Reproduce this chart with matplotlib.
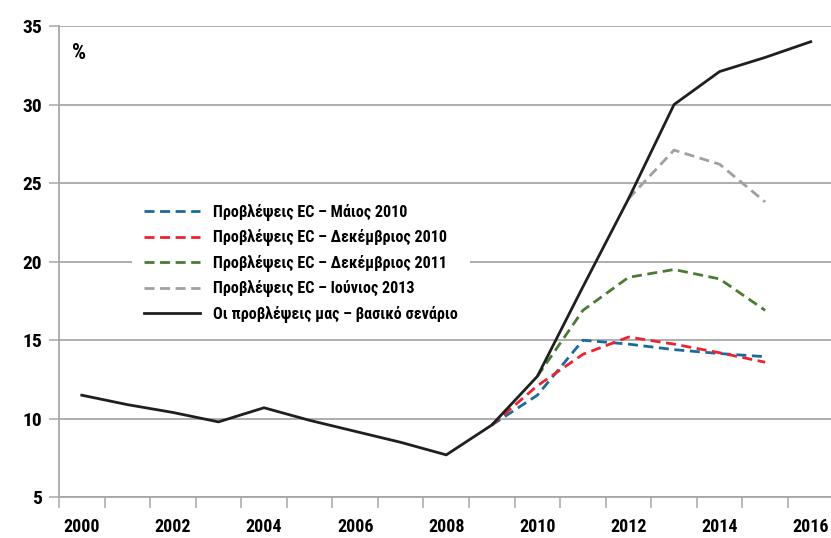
import numpy as np
import matplotlib
matplotlib.use('Agg')
import matplotlib.pyplot as plt
from matplotlib.ticker import FixedLocator

plt.rcParams['font.family'] = ['Roboto Condensed', 'DejaVu Sans']
plt.rcParams['font.weight'] = 'bold'

# data
years = list(range(2000, 2017))

base_years = years
base_vals = [11.5, 10.9, 10.4, 9.8, 10.7, 9.9, 9.2, 8.5, 7.7, 9.6,
             12.7, 18.4, 24.0, 30.0, 32.1, 33.0, 34.0]

may10_years = [2009, 2010, 2011, 2012, 2013, 2014, 2015]
may10_vals = [9.6, 11.5, 15.0, 14.75, 14.4, 14.15, 13.95]

dec10_years = [2009, 2010, 2011, 2012, 2013, 2014, 2015]
dec10_vals = [9.6, 12.1, 14.1, 15.2, 14.75, 14.2, 13.6]

dec11_years = [2010, 2011, 2012, 2013, 2014, 2015]
dec11_vals = [12.7, 16.9, 19.0, 19.5, 18.9, 16.9]

jun13_years = [2012, 2013, 2014, 2015]
jun13_vals = [24.0, 27.1, 26.2, 23.8]

labels = ['Προβλέψεις EC – Μάιος 2010',
          'Προβλέψεις EC – Δεκέμβριος 2010',
          'Προβλέψεις EC – Δεκέμβριος 2011',
          'Προβλέψεις EC – Ιούνιος 2013',
          'Οι προβλέψεις μας – βασικό σενάριο']

GRID = '#a8a8a8'

fig = plt.figure(figsize=(8.31, 5.38), dpi=100)
ax = fig.add_axes([59 / 831, 1 - 497.3 / 538, 1.003 - 59 / 831, (497.3 - 26) / 538])

def xpos(ys):
    return [y - 2000 for y in ys]

dash = (3.6, 2.0)
ax.plot(xpos(may10_years), may10_vals, color='#1d6a9a', lw=2.0, dashes=dash, label=labels[0], zorder=3)
ax.plot(xpos(dec10_years), dec10_vals, color='#ea2430', lw=2.0, dashes=dash, label=labels[1], zorder=3)
ax.plot(xpos(dec11_years), dec11_vals, color='#4c7a35', lw=2.0, dashes=dash, label=labels[2], zorder=3)
ax.plot(xpos(jun13_years), jun13_vals, color='#a0a0a0', lw=2.0, dashes=dash, label=labels[3], zorder=3)
ax.plot(xpos(base_years), base_vals, color='#1f1f1f', lw=2.0, label=labels[4], zorder=4)

ax.set_xlim(-0.5, 16.5)
ax.set_ylim(5, 35)
ax.set_yticks(range(5, 36, 5))
ax.yaxis.grid(True, color=GRID, lw=1.3)
ax.set_axisbelow(True)

# category boundaries get the ticks, labels sit in the middle every 2 years
ax.xaxis.set_major_locator(FixedLocator(np.arange(-0.5, 16.6, 1)))
ax.set_xticklabels([])
ax.xaxis.set_minor_locator(FixedLocator(range(0, 17, 2)))
ax.set_xticklabels([str(y) for y in years[::2]], minor=True)
ax.tick_params(axis='x', which='major', length=8, width=1.1, color=GRID)
ax.tick_params(axis='x', which='minor', length=0, pad=15, labelsize=13)
ax.tick_params(axis='y', length=7, width=1.1, color=GRID, pad=5, labelsize=14)

for s in ['top', 'right']:
    ax.spines[s].set_visible(False)
for s in ['left', 'bottom']:
    ax.spines[s].set_color(GRID)
    ax.spines[s].set_linewidth(1.3)
ax.spines['left'].set_bounds(5, 35)

fig.text(72 / 831, 1 - 53 / 538, '%', fontsize=16, va='center', ha='left')

leg = ax.legend(loc='upper left', bbox_to_anchor=(132 / 831, 1 - 192 / 538),
                bbox_transform=fig.transFigure, fontsize=11.6, frameon=True,
                facecolor='white', edgecolor='none', framealpha=1,
                handlelength=3.5, handletextpad=0.8, labelspacing=0.52,
                borderpad=0.75, borderaxespad=0, fancybox=False)
leg.set_zorder(5)

fig.savefig('out.png', dpi=100, facecolor='white')
